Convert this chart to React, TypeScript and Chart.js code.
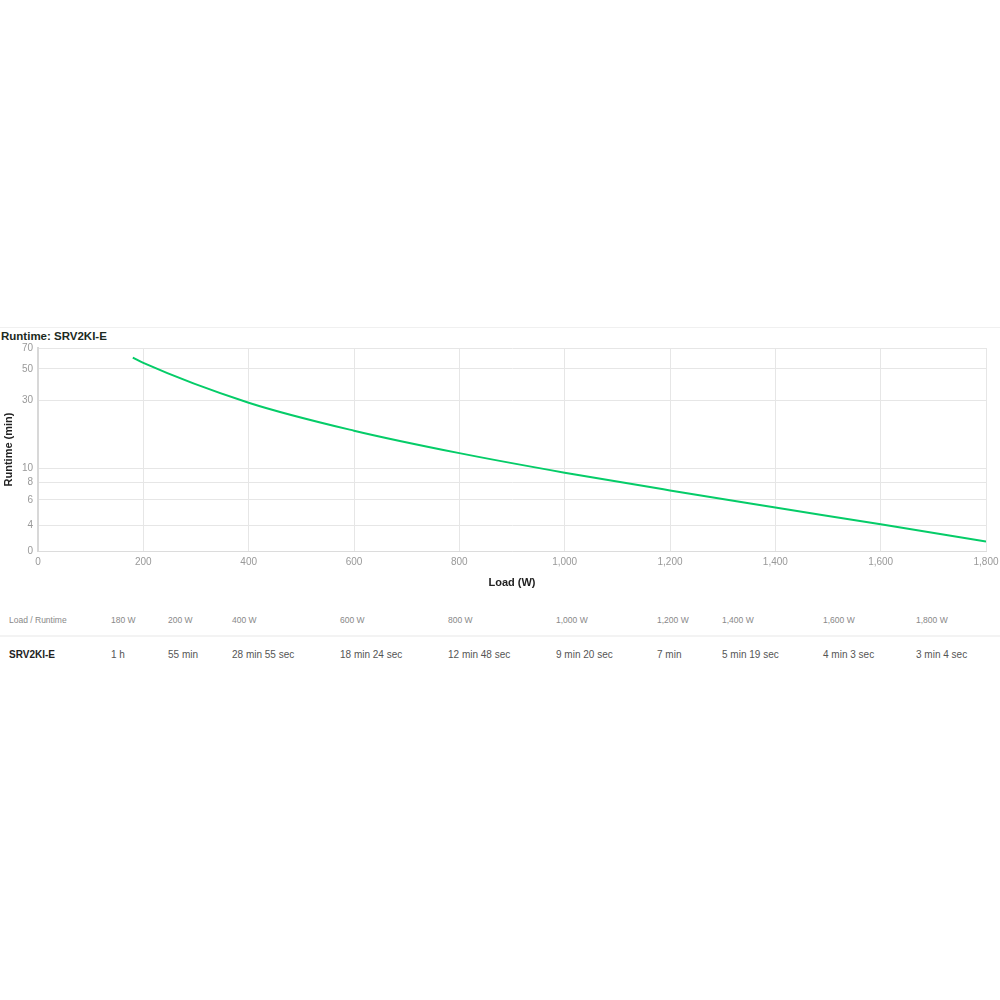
import React, { useEffect, useRef } from "react";
import { Chart, registerables } from "chart.js";

Chart.register(...registerables);

const loads = [180, 200, 400, 600, 800, 1000, 1200, 1400, 1600, 1800];
const runtimesMin = [60, 55, 28.917, 18.4, 12.8, 9.333, 7, 5.317, 4.05, 3.067];
const yTickValues = [4, 6, 8, 10, 30, 50, 70];
const yMin = 2.63;
const yMax = 70;
const modelName = "SRV2KI-E";
const tableHeaders = ["180 W", "200 W", "400 W", "600 W", "800 W", "1,000 W", "1,200 W", "1,400 W", "1,600 W", "1,800 W"];
const tableValues = ["1 h", "55 min", "28 min 55 sec", "18 min 24 sec", "12 min 48 sec", "9 min 20 sec", "7 min", "5 min 19 sec", "4 min 3 sec", "3 min 4 sec"];
const columnX = [111, 168, 232, 340, 448, 556, 657, 722, 823, 916];

const FONT = "'Liberation Sans', Arial, Helvetica, sans-serif";

export default function App() {
  const canvasRef = useRef<HTMLCanvasElement | null>(null);

  useEffect(() => {
    const ctx = canvasRef.current!.getContext("2d")!;
    const chart = new Chart(ctx, {
      type: "line",
      data: {
        datasets: [
          {
            label: modelName,
            data: loads.map((x, i) => ({ x, y: runtimesMin[i] })),
            borderColor: "#05cc68",
            borderWidth: 2,
            pointRadius: 0,
            fill: false,
            cubicInterpolationMode: "monotone",
          },
        ],
      },
      options: {
        animation: false,
        responsive: false,
        maintainAspectRatio: false,
        layout: { padding: { left: 0, right: 14, top: 8, bottom: 0 } },
        plugins: { legend: { display: false }, tooltip: { enabled: false }, title: { display: false } },
        scales: {
          x: {
            type: "linear",
            min: 0,
            max: 1800,
            ticks: { stepSize: 200, color: "#999", font: { family: FONT, size: 10 }, padding: 5, maxRotation: 0 },
            grid: { color: "#e6e6e6", drawTicks: false },
            border: { color: "#dcdcdc" },
            title: { display: true, text: "Load (W)", color: "#222", font: { family: FONT, size: 11, weight: "bold" }, padding: { top: 2, bottom: 0 } },
            afterFit: (scale: any) => {
              scale.height = 39;
              scale.paddingRight = 0;
              scale.paddingLeft = 0;
            },
          },
          y: {
            type: "logarithmic",
            min: yMin,
            max: yMax,
            afterBuildTicks: (scale: any) => {
              scale.ticks = [yMin, ...yTickValues].map((v) => ({ value: v }));
            },
            ticks: {
              color: "#999",
              font: { family: FONT, size: 10 },
              padding: 5,
              autoSkip: false,
              callback: (v: any) => (Math.abs(v - yMin) < 1e-6 ? "0" : String(v)),
            },
            grid: { color: "#e6e6e6", drawTicks: false },
            border: { color: "#d8d8d8", width: 2 },
            title: { display: true, text: "Runtime (min)", color: "#222", font: { family: FONT, size: 11, weight: "bold" }, padding: { top: 2, bottom: 0 } },
            afterFit: (scale: any) => {
              scale.width = 38;
              scale.paddingTop = 0;
              scale.paddingBottom = 0;
            },
          },
        },
      },
    });
    return () => chart.destroy();
  }, []);

  const cellStyle = (x: number): React.CSSProperties => ({ position: "absolute", left: x, whiteSpace: "nowrap" });

  return (
    <div style={{ position: "absolute", left: 0, top: 0, width: 1000, height: 1000, background: "#fff", fontFamily: FONT, overflow: "hidden" }}>
      <div style={{ position: "absolute", left: 0, top: 327, width: 1000, height: 1, background: "#f0f0f0" }} />
      <div style={{ position: "absolute", left: 1, top: 329, fontSize: 11.5, fontWeight: "bold", color: "#1c2a22", lineHeight: "15px" }}>
        Runtime: {modelName}
      </div>
      <canvas ref={canvasRef} width={1000} height={250} style={{ position: "absolute", left: 0, top: 340, width: 1000, height: 250 }} />
      <div style={{ position: "absolute", left: 0, top: 613, width: 1000, height: 14, fontSize: 8.5, color: "#888", lineHeight: "14px" }}>
        <span style={cellStyle(9)}>Load / Runtime</span>
        {tableHeaders.map((h, i) => (
          <span key={h} style={cellStyle(columnX[i])}>{h}</span>
        ))}
      </div>
      <div style={{ position: "absolute", left: 0, top: 635, width: 1000, height: 2, background: "#f3f3f3" }} />
      <div style={{ position: "absolute", left: 0, top: 647, width: 1000, height: 15, fontSize: 10, color: "#555", lineHeight: "15px" }}>
        <span style={{ ...cellStyle(9), fontWeight: "bold", color: "#222" }}>{modelName}</span>
        {tableValues.map((v, i) => (
          <span key={i} style={cellStyle(columnX[i])}>{v}</span>
        ))}
      </div>
    </div>
  );
}
